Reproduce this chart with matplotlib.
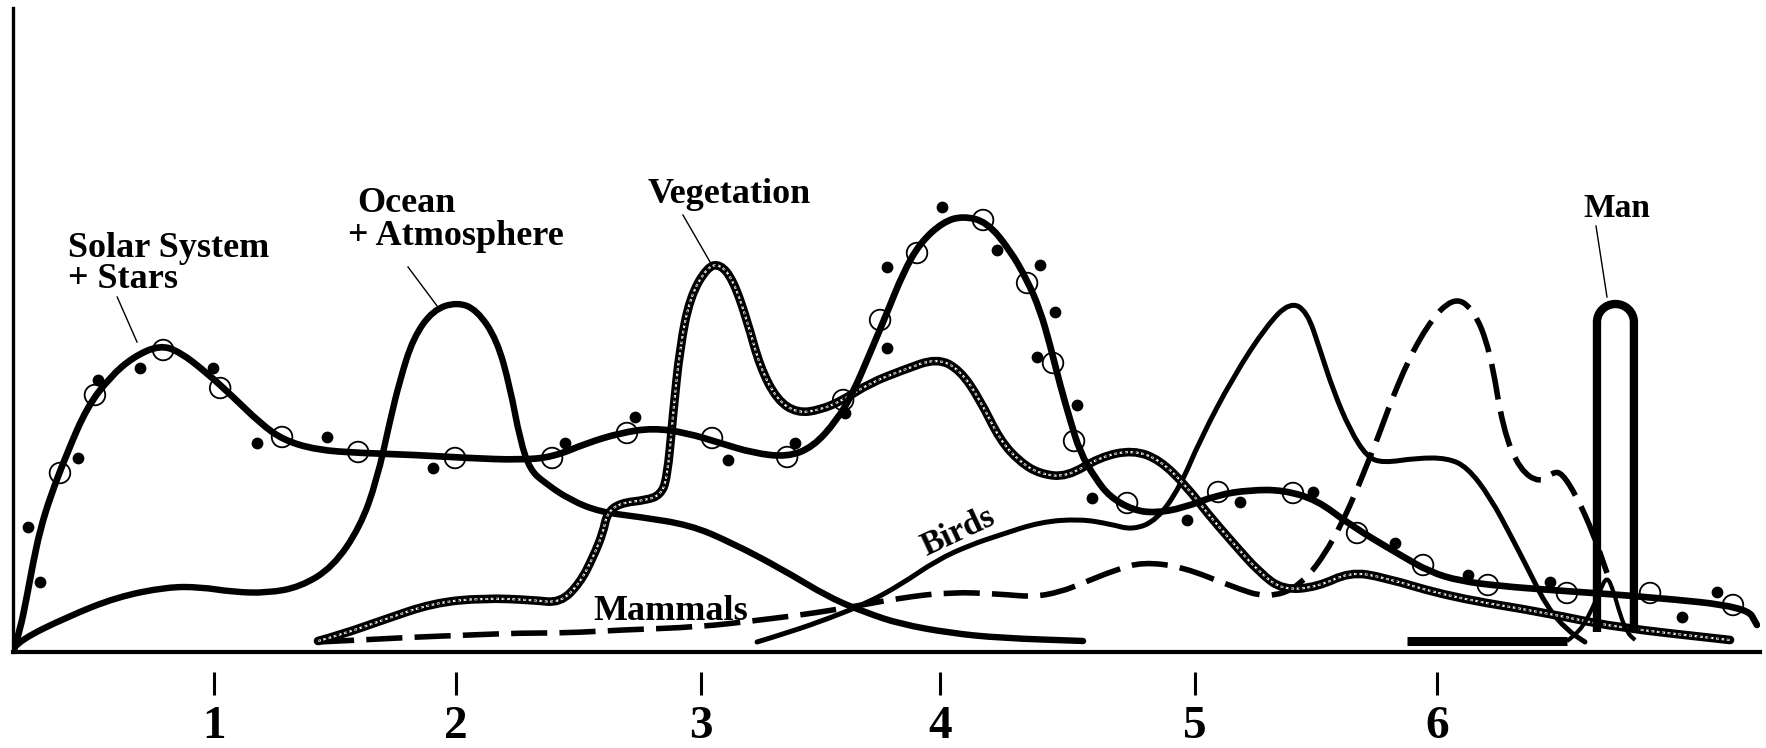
import matplotlib
matplotlib.use("Agg")
import matplotlib.pyplot as plt
from matplotlib.path import Path
from matplotlib.patches import PathPatch

# ---------------- data (x: epoch, tick marks at 1..6 ; y: relative level) ----------------
TICK_POS = [1.0, 1.99, 2.99, 3.97, 5.01, 6.0]
TICK_LABELS = ["1", "2", "3", "4", "5", "6"]

SOLAR_X = [0.182, 0.207, 0.236, 0.260, 0.289, 0.330, 0.399, 0.481, 0.575, 0.669, 0.779, 0.861,
           0.971, 1.078, 1.188, 1.282, 1.421, 1.597, 1.830, 2.034, 2.251, 2.386, 2.525, 2.660,
           2.795, 2.934, 3.069, 3.204, 3.343, 3.449, 3.547, 3.612, 3.682, 3.751, 3.817, 3.886,
           3.980, 4.062, 4.160, 4.254, 4.324, 4.377, 4.418, 4.459, 4.500, 4.540, 4.602, 4.663,
           4.757, 4.847, 4.962, 5.101, 5.236, 5.370, 5.510, 5.644, 5.849, 5.971, 6.094, 6.257,
           6.462, 6.871, 7.267, 7.308]
SOLAR_Y = [2, 22, 57, 89, 122, 155, 199, 245, 275, 295, 307, 300,
           279, 255, 229, 212, 202, 199, 197, 194, 192, 195, 209, 219,
           224, 219, 209, 199, 195, 205, 232, 259, 299, 339, 379, 409,
           430, 436, 430, 402, 372, 342, 307, 267, 232, 200, 174, 155,
           142, 139, 144, 157, 162, 162, 152, 127, 97, 80, 71, 66,
           62, 55, 45, 27]

OCEAN_X = [0.182, 0.207, 0.399, 0.603, 0.808, 0.943, 1.078, 1.217, 1.352, 1.486, 1.597, 1.666,
           1.720, 1.760, 1.814, 1.895, 1.994, 2.075, 2.157, 2.210, 2.251, 2.292, 2.353, 2.456,
           2.578, 2.742, 2.946, 3.110, 3.314, 3.518, 3.670, 3.805, 4.009, 4.213, 4.553]
OCEAN_Y = [4, 12, 35, 55, 65, 65, 60, 59, 65, 85, 125, 172,
           232, 272, 314, 342, 350, 342, 312, 265, 212, 182, 169, 152,
           140, 135, 127, 110, 84, 54, 39, 28, 19, 14, 11]

VEG_X = [1.425, 1.515, 1.691, 1.895, 2.100, 2.304, 2.415, 2.496, 2.550, 2.590, 2.607, 2.660,
         2.770, 2.823, 2.852, 2.877, 2.905, 2.946, 3.016, 3.069, 3.122, 3.179, 3.232, 3.302,
         3.384, 3.478, 3.572, 3.682, 3.817, 3.956, 4.050, 4.132, 4.213, 4.295, 4.377, 4.487,
         4.622, 4.757, 4.868, 4.978, 5.060, 5.166, 5.276, 5.370, 5.510, 5.644, 5.779, 6.053,
         6.450, 6.720, 7.198]
VEG_Y = [11, 17, 32, 49, 54, 52, 49, 69, 95, 119, 139, 149,
         152, 157, 172, 239, 305, 355, 385, 388, 372, 332, 285, 252,
         239, 242, 252, 269, 282, 294, 282, 252, 212, 190, 178, 175,
         195, 202, 192, 165, 139, 109, 79, 62, 65, 80, 75, 55,
         39, 25, 12]

BIRDS_X = [3.220, 3.355, 3.518, 3.670, 3.805, 3.956, 4.091, 4.213, 4.377, 4.540, 4.663, 4.757,
           4.855, 4.949, 5.031, 5.166, 5.305, 5.399, 5.468, 5.522, 5.575, 5.644, 5.714, 5.779,
           5.918, 6.041, 6.123, 6.217, 6.311, 6.380, 6.450, 6.531, 6.605]
BIRDS_Y = [10, 20, 34, 49, 67, 92, 107, 117, 130, 133, 128, 122,
           132, 165, 212, 275, 327, 350, 341, 302, 262, 222, 195, 189,
           194, 194, 185, 155, 112, 79, 45, 22, 10]

MAMMALS_X = [1.425, 1.597, 1.830, 2.047, 2.251, 2.443, 2.660, 2.987, 3.232, 3.396, 3.531, 3.649,
             3.805, 4.009, 4.213, 4.348, 4.459, 4.553, 4.684, 4.798, 4.962, 5.166, 5.305, 5.440,
             5.575, 5.714, 5.849, 5.959, 6.065, 6.147, 6.217, 6.270, 6.339, 6.421, 6.474, 6.511,
             6.572, 6.638, 6.695]
MAMMALS_Y = [10, 12, 15, 17, 19, 19, 22, 25, 32, 37, 42, 47,
             54, 60, 58, 55, 60, 69, 82, 90, 85, 65, 54, 65,
             109, 185, 275, 327, 355, 344, 302, 222, 182, 169, 180, 179,
             155, 119, 79]

MAN_BAR_X = [5.877, 6.531]
MAN_BAR_Y = [11, 11]
MAN_PEAK_X = [6.531, 6.585, 6.638, 6.667, 6.695, 6.720, 6.749, 6.778, 6.810]
MAN_PEAK_Y = [11, 20, 45, 62, 76, 62, 37, 19, 12]
MAN_SPIKE_X = [6.654, 6.805]
MAN_SPIKE_BASE = 20
MAN_SPIKE_TOP = 348

DOT_X = [0.240, 0.289, 0.444, 0.526, 0.698, 0.996, 1.176, 1.462, 1.895, 2.435, 2.721, 3.101,
         3.375, 3.580, 3.751, 3.751, 3.976, 4.201, 4.377, 4.438, 4.365, 4.528, 4.590, 4.978,
         5.195, 5.493, 5.828, 6.127, 6.462, 7.002, 7.145]
DOT_Y = [125, 70, 194, 272, 284, 284, 209, 215, 184, 209, 235, 192,
         209, 239, 304, 385, 445, 402, 387, 340, 295, 247, 154, 132,
         150, 160, 109, 77, 70, 35, 60]

CIRC_X = [0.370, 0.513, 0.792, 1.025, 1.278, 1.589, 1.985, 2.382, 2.688, 3.036, 3.343, 3.572,
          3.723, 3.874, 4.144, 4.324, 4.430, 4.516, 4.733, 5.105, 5.411, 5.673, 5.943, 6.208,
          6.531, 6.871, 7.210]
CIRC_Y = [179, 257, 302, 264, 215, 200, 194, 194, 219, 214, 195, 252,
          332, 399, 432, 369, 289, 211, 149, 160, 159, 119, 87, 67,
          59, 59, 47]

# labels: (text, x, y, size) baseline-anchored, left aligned
LABELS = [("Solar System", 0.403, 395, 26), ("+ Stars", 0.403, 364, 26),
          ("Ocean", 1.585, 440, 26), ("+ Atmosphere", 1.548, 407, 26),
          ("Vegetation", 2.774, 449, 26), ("Man", 6.600, 435, 24),
          ("Mammals", 2.549, 32, 26)]
BIRDS_LABEL = ("Birds", 4.042, 120, 24)
LEADERS_X = [[0.604, 0.685], [1.793, 1.912], [2.917, 3.028], [6.650, 6.695]]
LEADERS_Y = [[355, 310], [385, 346], [437, 390], [426, 355]]

# ---------------- figure ----------------
W, H = 1766, 748
fig = plt.figure(figsize=(W / 100, H / 100), dpi=100)
ax = fig.add_axes([13 / W, 96 / H, 1747 / W, 644 / H])
ax.set_xlim(0.178, 7.3205)
ax.set_ylim(0, 644)

for s in ["top", "right"]:
    ax.spines[s].set_visible(False)
ax.spines["left"].set_linewidth(2.4)
ax.spines["bottom"].set_linewidth(3.0)
ax.set_yticks([])
ax.tick_params(axis="x", length=0, labelbottom=False)

FONT = dict(family="Liberation Serif", weight="bold")


def smooth_curve(xs, ys, **kw):
    pts = list(zip(xs, ys))
    verts = [pts[0]]
    codes = [Path.MOVETO]
    for i in range(1, len(pts) - 1):
        mid = ((pts[i][0] + pts[i + 1][0]) / 2.0, (pts[i][1] + pts[i + 1][1]) / 2.0)
        verts += [pts[i], mid]
        codes += [Path.CURVE3, Path.CURVE3]
    verts.append(pts[-1])
    codes.append(Path.LINETO)
    patch = PathPatch(Path(verts, codes), fill=False, **kw)
    ax.add_patch(patch)
    return patch


# curves
smooth_curve(OCEAN_X, OCEAN_Y, edgecolor="black", lw=4.6, joinstyle="round", capstyle="round", zorder=2)
smooth_curve(BIRDS_X, BIRDS_Y, edgecolor="black", lw=3.6, joinstyle="round", capstyle="round", zorder=2)
smooth_curve(MAMMALS_X, MAMMALS_Y, edgecolor="black", lw=4.0, linestyle=(0, (6.5, 2.2)),
             capstyle="butt", zorder=2)

# vegetation: rope-like line
smooth_curve(VEG_X, VEG_Y, edgecolor="black", lw=6.2, joinstyle="round", capstyle="round", zorder=3)
smooth_curve(VEG_X, VEG_Y, edgecolor="white", lw=1.5, linestyle=(0, (1.4, 1.2)), zorder=3)
smooth_curve(VEG_X, VEG_Y, edgecolor="black", lw=0.5, linestyle=(0, (3, 2)), zorder=3)

smooth_curve(SOLAR_X, SOLAR_Y, edgecolor="black", lw=4.8, joinstyle="round", capstyle="round", zorder=3)

# man
ax.plot(MAN_BAR_X, MAN_BAR_Y, color="black", lw=6.5, solid_capstyle="butt", zorder=3)
smooth_curve(MAN_PEAK_X, MAN_PEAK_Y, edgecolor="black", lw=3.0, joinstyle="round", zorder=3)
xl, xr = MAN_SPIKE_X
base, top = MAN_SPIKE_BASE, MAN_SPIKE_TOP
rx = (xr - xl) / 2.0
ry = 18.0
xm = xl + rx
yc = top - ry
k = 0.5523
verts = [(xl, base), (xl, yc),
         (xl, yc + k * ry), (xm - k * rx, top), (xm, top),
         (xm + k * rx, top), (xr, yc + k * ry), (xr, yc),
         (xr, base)]
codes = [Path.MOVETO, Path.LINETO,
         Path.CURVE4, Path.CURVE4, Path.CURVE4,
         Path.CURVE4, Path.CURVE4, Path.CURVE4,
         Path.LINETO]
ax.add_patch(PathPatch(Path(verts, codes), fill=False, edgecolor="black", lw=6.0,
                       capstyle="butt", joinstyle="round", zorder=4))

# data points
ax.scatter(DOT_X, DOT_Y, s=72, color="black", zorder=5, linewidths=0)
ax.scatter(CIRC_X, CIRC_Y, s=220, facecolors="none", edgecolors="black", linewidths=1.3, zorder=5)

# labels and leader lines
for txt, x, y, fs in LABELS:
    ax.text(x, y, txt, ha="left", va="baseline", fontsize=fs, **FONT)
bt, bx, by, bsize = BIRDS_LABEL
ax.text(bx, by, bt, ha="center", va="center", rotation=25, rotation_mode="anchor",
        fontsize=bsize, **FONT)
for lx, ly in zip(LEADERS_X, LEADERS_Y):
    ax.plot(lx, ly, color="black", lw=1.0)

# detached tick marks below the axis line
sec = ax.secondary_xaxis(-0.031)
sec.spines["bottom"].set_visible(False)
sec.set_xticks(TICK_POS)
sec.set_xticklabels(TICK_LABELS, fontsize=34, **FONT)
sec.tick_params(axis="x", direction="out", length=16.5, width=2.2, pad=8)

fig.savefig("out.png", dpi=100, facecolor="white")
